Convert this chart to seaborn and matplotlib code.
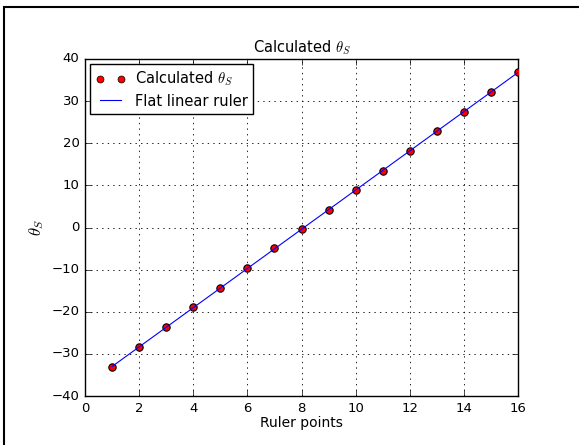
import matplotlib
matplotlib.use("Agg")
import matplotlib.pyplot as plt
from matplotlib.patches import Rectangle
from matplotlib.lines import Line2D
import seaborn as sns
import pandas as pd

plt.style.use("classic")

ruler_points = [1, 2, 3, 4, 5, 6, 7, 8, 9, 10, 11, 12, 13, 14, 15, 16]
theta_calc = [-33.0, -28.3, -23.6, -18.9, -14.3, -9.6, -4.9, -0.3,
              4.2, 8.8, 13.5, 18.1, 22.8, 27.4, 32.1, 36.8]
ruler_x = [1, 16]
ruler_y = [-33.0, 36.8]

df_pts = pd.DataFrame({"x": ruler_points, "y": theta_calc})
df_line = pd.DataFrame({"x": ruler_x, "y": ruler_y})

fig = plt.figure(figsize=(5.79, 4.45), dpi=100)
fig.patch.set_facecolor("white")
ax = fig.add_axes([85/579, 1-396/445, (518-85)/579, (396-59)/445])

sns.scatterplot(data=df_pts, x="x", y="y", ax=ax, color="red", edgecolor="black",
                linewidth=0.8, s=28, zorder=3, legend=False)
sns.lineplot(data=df_line, x="x", y="y", ax=ax, color="blue", linewidth=0.8,
             zorder=4, legend=False)

ax.set_xlim(0, 16)
ax.set_ylim(-40, 40)
ax.set_xticks(range(0, 17, 2))
ax.set_yticks(range(-40, 41, 10))
ax.grid(True, color="black", linestyle=":", linewidth=0.6)
ax.tick_params(labelsize=9.5, direction="in", length=4)
ax.set_xlabel("Ruler points", fontsize=10, labelpad=1)
ax.set_ylabel(r"$\theta_S$", fontsize=12, labelpad=4)
ax.set_title(r"Calculated $\theta_S$", fontsize=10.5)

h_pts = Line2D([], [], linestyle="none", marker="o", markerfacecolor="red",
               markeredgecolor="black", markersize=5)
h_line = Line2D([], [], color="blue", linewidth=0.8)
ax.legend([h_pts, h_line], [r"Calculated $\theta_S$", "Flat linear ruler"],
          loc="upper left", numpoints=2, fontsize=10.5, borderaxespad=0.35,
          handlelength=2.0, handletextpad=0.65, labelspacing=0.35, borderpad=0.4)

fig.patches.append(Rectangle((4/579, -0.2), 1.2, 1.2 - 7/445,
                             transform=fig.transFigure, fill=False,
                             edgecolor="black", linewidth=1.5, clip_on=False))

fig.savefig("out.png", dpi=100)
